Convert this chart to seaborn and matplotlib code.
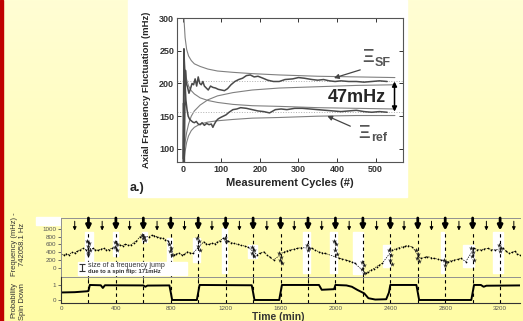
import numpy as np
import seaborn as sns
import matplotlib.pyplot as plt
from matplotlib.patches import Rectangle
from matplotlib.colors import LinearSegmentedColormap

# ---------- panel a.) : fluctuation vs measurement cycles ----------
cyc_sf = [1, 3, 5, 7, 9, 12, 16, 20, 24, 28, 32, 36, 40, 44, 48, 52, 56, 61, 66, 72,
          78, 85, 92, 100, 108, 116, 125, 135, 145, 155, 165, 175, 185, 195, 208, 220,
          235, 250, 265, 285, 300, 315, 335, 350, 365, 380, 395, 410, 430, 450, 470,
          490, 510, 530]
fluct_sf = [85, 253, 190, 220, 200, 195, 185, 192, 200, 198, 207, 196, 210, 200, 198,
            203, 196, 193, 190, 196, 194, 193, 191, 190, 189, 192, 198, 203, 206, 208,
            212, 213, 210, 211, 208, 205, 203, 203, 206, 207, 209, 208, 206, 205, 206,
            204, 203, 204, 203, 203, 202, 203, 204, 203]

cyc_ref = [1, 2, 4, 6, 8, 11, 14, 18, 22, 26, 30, 35, 40, 45, 50, 56, 62, 68, 74, 78,
           82, 87, 92, 98, 105, 112, 120, 130, 140, 150, 165, 180, 195, 210, 225, 240,
           255, 270, 290, 310, 330, 350, 370, 390, 410, 430, 450, 470, 490, 510, 530]
fluct_ref = [80, 170, 80, 200, 175, 160, 150, 145, 143, 141, 140, 142, 138, 137, 140,
             136, 139, 137, 138, 133, 138, 143, 146, 148, 150, 152, 156, 160, 161, 163,
             162, 160, 158, 157, 155, 160, 161, 160, 162, 162, 161, 160, 159, 158, 157,
             158, 159, 157, 156, 157, 156]

env_cyc = [3, 6, 10, 15, 22, 30, 45, 65, 90, 130, 180, 250, 350, 450, 550]
env_sf_hi = [300, 270, 252, 242, 235, 230, 226, 222, 219, 217, 215, 213, 211, 210, 209]
env_sf_lo = [95, 110, 125, 138, 150, 158, 167, 175, 181, 186, 190, 193, 195, 197, 198]
env_ref_hi = [250, 222, 206, 196, 189, 184, 178, 174, 171, 168, 166, 165, 163, 162, 161]
env_ref_lo = [80, 96, 110, 120, 128, 133, 138, 141, 143, 145, 147, 148, 150, 151, 151]
mean_levels = [203, 157]

# ---------- lower panel : frequency and spin state vs time ----------
freq_t = [0, 20, 40, 60, 80, 100, 120, 140, 160, 180, 230, 250, 270, 290, 310, 330, 350,
          370, 430, 450, 470, 490, 510, 530, 550, 575, 640, 660, 680, 700, 720, 740,
          760, 780, 820, 840, 860, 880, 900, 920, 940, 960, 1040, 1060, 1080, 1100, 1120,
          1140, 1160, 1180, 1220, 1240, 1260, 1290, 1310, 1340, 1360, 1430, 1450, 1480,
          1500, 1520, 1550, 1625, 1650, 1670, 1700, 1720, 1750, 1830, 1850, 1880, 1900,
          1925, 2025, 2050, 2075, 2100, 2120, 2140, 2220, 2240, 2260, 2280, 2300, 2320,
          2340, 2415, 2440, 2460, 2490, 2510, 2530, 2560, 2620, 2650, 2670, 2700, 2720,
          2750, 2770, 2820, 2840, 2865, 2890, 2915, 2950, 3010, 3035, 3060, 3085, 3110,
          3135, 3160, 3220, 3245, 3265, 3285, 3305, 3325, 3345]
freq_mhz = [350, 330, 360, 340, 400, 380, 430, 470, 500, 470, 500, 470, 450, 480, 500,
            460, 470, 500, 590, 570, 610, 580, 590, 650, 690, 800, 800, 840, 830, 800,
            780, 760, 720, 700, 330, 360, 380, 330, 350, 410, 390, 370, 670, 620, 600,
            640, 620, 670, 700, 760, 680, 650, 630, 600, 580, 560, 540, 330, 380, 410,
            330, 280, 200, 410, 440, 460, 480, 500, 520, 500, 460, 410, 390, 370, 250,
            230, 200, 180, 150, 120, -140, -100, -60, -20, 30, 70, 110, 460, 490, 520,
            540, 560, 570, 540, 240, 270, 290, 260, 240, 220, 200, 160, 180, 200, 220,
            240, 160, 500, 470, 460, 490, 500, 470, 460, 500, 430, 370, 400, 420, 360, 330]

star_t = [190, 205, 195, 210, 200, 198,
          390, 405, 395, 410,
          590, 605, 598, 610,
          790, 805, 795, 810,
          990, 1005, 995, 1010,
          1195, 1205,
          1390, 1405, 1395, 1410,
          1590, 1605, 1595, 1610,
          1790, 1805, 1800,
          1990, 2005, 1995, 2010,
          2190, 2205, 2195, 2210,
          2390, 2405, 2395, 2410,
          2590, 2605, 2595, 2610,
          2790, 2805, 2800,
          2990, 3005, 2995, 3010,
          3190, 3205, 3200]
star_f = [700, 640, 560, 450, 400, 360,
          660, 600, 540, 470,
          850, 800, 760, 720,
          620, 520, 420, 320,
          760, 700, 560, 470,
          770, 700,
          540, 450, 380, 300,
          380, 290, 200, 130,
          590, 520, 450,
          680, 600, 470, 360,
          150, 60, -40, -130,
          450, 330, 200, 90,
          460, 360, 260, 170,
          200, 140, 80,
          500, 400, 300, 210,
          590, 510, 430]

prob_t = [0, 100, 190, 200, 210, 290, 305, 320, 600, 615, 630, 790, 800, 810, 990, 1000,
          1010, 1390, 1400, 1410, 1590, 1600, 1610, 1880, 1900, 1990, 2000, 2080, 2120,
          2160, 2210, 2240, 2290, 2370, 2390, 2400, 2590, 2600, 2610, 2990, 3000, 3010,
          3060, 3080, 3100, 3345]
prob_down = [0.5, 0.52, 0.58, 0.6, 1.0, 0.98, 0.8, 0.98, 0.97, 0.88, 0.96, 0.97, 0.5,
             0.0, 0.0, 0.5, 1.0, 0.98, 0.5, 0.0, 0.0, 0.5, 1.0, 1.0, 0.68, 0.72, 1.0,
             0.97, 0.88, 0.67, 0.44, 0.12, 0.03, 0.05, 0.5, 1.0, 1.0, 0.5, 0.0, 0.0,
             0.5, 1.0, 1.0, 0.88, 0.95, 0.97]

big_arrow_t = [200, 400, 600, 800, 1000, 1200, 1400, 1600, 1800, 2000, 2200, 2400, 2600,
               2800, 3000, 3200]
small_arrow_t = [100, 300, 500, 700, 900, 1100, 1300, 1500, 1700, 1900, 2100, 2300,
                 2500, 2700, 2900, 3100, 3300]

# white highlight bands (time start, time end, freq low, freq high)
band_t0 = [175, 380, 591, 774, 963, 1175, 1365, 1766, 1963, 2131, 2350, 2766, 2927, 3146]
band_t1 = [234, 416, 628, 810, 1015, 1212, 1430, 1818, 2015, 2204, 2401, 2788, 3007, 3219]
band_lo = [149, 300, 665, -135, 149, -135, 252, -135, -135, -160, 20, -135, 20, -135]
band_hi = [923, 923, 923, 768, 768, 1026, 587, 923, 923, 923, 587, 923, 587, 923]
jump_size = 171

sns.set_style("ticks")
plt.rcParams['font.family'] = ['Liberation Sans', 'DejaVu Sans']

fig = plt.figure(figsize=(5.23, 3.21), dpi=100)

# slide background
bg = fig.add_axes([0, 0, 1, 1], zorder=-10)
grad = np.linspace(0, 1, 256).reshape(-1, 1)
bg.imshow(grad, aspect='auto', extent=[0, 1, 0, 1],
          cmap=LinearSegmentedColormap.from_list('bg', ['#fffed4', '#fffca6']))
bg.add_patch(Rectangle((0, 0), 2.5 / 523, 1, color='#c00000'))
bg.add_patch(Rectangle((128 / 523, 1 - 197 / 321), 279 / 523, 197 / 321, color='white'))
bg.add_patch(Rectangle((36 / 523, 1 - 225 / 321), 24 / 523, 8 / 321, color='white'))
bg.set_xlim(0, 1)
bg.set_ylim(0, 1)
bg.axis('off')

# ---- top panel ----
ax = fig.add_axes([177 / 523, 1 - 162 / 321, 226 / 523, 144 / 321])
ax.set_facecolor('white')
for env in [env_sf_hi, env_sf_lo, env_ref_hi, env_ref_lo]:
    sns.lineplot(x=env_cyc, y=env, ax=ax, color='#808080', lw=0.8, estimator=None)
for lvl in mean_levels:
    ax.axhline(lvl, color='#b0b0b0', lw=0.7, ls=':')
sns.lineplot(x=cyc_sf, y=fluct_sf, ax=ax, color='#4a4a4a', lw=1.1, estimator=None, sort=False)
sns.lineplot(x=cyc_ref, y=fluct_ref, ax=ax, color='#4a4a4a', lw=1.1, estimator=None, sort=False)
ax.set_xlim(-15, 571)
ax.set_ylim(80, 300)
ax.set_xticks([0, 100, 200, 300, 400, 500])
ax.set_yticks([100, 150, 200, 250, 300])
ax.tick_params(direction='in', top=True, right=True, length=3, width=0.7,
               labelsize=6.5, pad=2, colors='#333333')
for lbl in ax.get_xticklabels() + ax.get_yticklabels():
    lbl.set_fontweight('bold')
for sp in ax.spines.values():
    sp.set_color('#555555')
    sp.set_linewidth(0.8)
ax.set_xlabel('Measurement Cycles (#)', fontsize=8, fontweight='bold', labelpad=3)
ax.set_ylabel('Axial Frequency Fluctuation (mHz)', fontsize=6.8, fontweight='bold', labelpad=6)

ax.annotate('', xy=(549, mean_levels[0]), xytext=(549, mean_levels[1]),
            arrowprops=dict(arrowstyle='<|-|>', color='black', lw=1.1,
                            mutation_scale=7, shrinkA=0, shrinkB=0))
ax.text(450, 178, '47mHz', fontsize=13, fontweight='bold', ha='center', va='center')
ax.text(465, 240, 'Ξ', fontsize=13, fontweight='bold', color='#555555', ha='left', va='center')
ax.text(497, 232, 'SF', fontsize=9, fontweight='bold', color='#555555', ha='left', va='center')
ax.text(456, 124, 'Ξ', fontsize=13, fontweight='bold', color='#555555', ha='left', va='center')
ax.text(488, 116, 'ref', fontsize=9, fontweight='bold', color='#555555', ha='left', va='center')
ax.annotate('', xy=(385, 207), xytext=(467, 222),
            arrowprops=dict(arrowstyle='-|>', color='#444444', lw=0.9, mutation_scale=7))
ax.annotate('', xy=(368, 152), xytext=(441, 133),
            arrowprops=dict(arrowstyle='-|>', color='#444444', lw=0.9, mutation_scale=7))
fig.text(130 / 523, 1 - 188 / 321, 'a.)', fontsize=9, fontweight='bold', va='center')

# ---- bottom panels ----
axf = fig.add_axes([61 / 523, 1 - 277 / 321, 459 / 523, 59 / 321])
axp = fig.add_axes([61 / 523, 1 - 303 / 321, 459 / 523, 26 / 321], sharex=axf)
for a in (axf, axp):
    a.set_facecolor('none')

axf.bar(x=[(a + b) / 2 for a, b in zip(band_t0, band_t1)],
        height=[h - l for l, h in zip(band_lo, band_hi)], bottom=band_lo,
        width=[b - a for a, b in zip(band_t0, band_t1)], color='white', zorder=0)

for t in big_arrow_t:
    axf.annotate('', xy=(t, 960), xytext=(t, 1284),
                 arrowprops=dict(arrowstyle='-|>', color='black', lw=2.0,
                                 mutation_scale=7, shrinkA=0, shrinkB=0))
    axf.axvline(t, ymax=0.74, color='black', lw=0.8, ls=(0, (3, 3)))
    axp.axvline(t, color='black', lw=0.8, ls=(0, (3, 3)))
for t in small_arrow_t:
    axf.annotate('', xy=(t, 960), xytext=(t, 1200),
                 arrowprops=dict(arrowstyle='-|>', color='black', lw=0.7,
                                 mutation_scale=5, shrinkA=0, shrinkB=0))

sns.lineplot(x=freq_t, y=freq_mhz, ax=axf, color='black', lw=0.5, ls=(0, (2, 1.5)),
             marker='.', markersize=2.5, markeredgewidth=0, estimator=None, sort=False)
sns.scatterplot(x=star_t, y=star_f, ax=axf, marker='*', s=14, color='#222222',
                linewidth=0, zorder=3)

axf.add_patch(Rectangle((124, -187), 796, 335, color='white', zorder=2))
axf.errorbar(150, 5, yerr=jump_size / 2, color='#333333', lw=0.8, capsize=2,
             capthick=0.8, zorder=3)
axf.text(200, 65, 'size of a frequency jump', fontsize=5, color='#333333',
         va='center', zorder=4)
axf.text(200, -105, 'due to a spin flip: 171mHz', fontsize=4.2, fontweight='bold',
         color='#333333', va='center', zorder=4)

axf.set_xlim(0, 3345)
axf.set_ylim(-239, 1284)
axf.set_yticks([0, 200, 400, 600, 800, 1000])
axf.tick_params(axis='y', labelsize=4.5, length=2, width=0.6, pad=1.5, colors='#555555')
axf.tick_params(axis='x', bottom=False, labelbottom=False)
axf.spines['right'].set_visible(False)
for sp in ('left', 'top', 'bottom'):
    axf.spines[sp].set_color('#909090')
    axf.spines[sp].set_linewidth(0.7)

sns.lineplot(x=prob_t, y=prob_down, ax=axp, color='black', lw=1.4, estimator=None)
axp.set_ylim(-0.2, 1.53)
axp.set_yticks([0, 1])
axp.set_xticks(range(0, 3201, 400))
axp.set_xticks(range(200, 3345, 400), minor=True)
axp.tick_params(axis='y', labelsize=4.5, length=2, width=0.6, pad=1.5, colors='#555555')
axp.tick_params(axis='x', which='both', direction='in', length=2.5, width=0.6,
                labelsize=4.5, pad=2, colors='#555555')
axp.spines['right'].set_visible(False)
axp.spines['top'].set_visible(False)
for sp in ('left', 'bottom'):
    axp.spines[sp].set_color('#333333')
    axp.spines[sp].set_linewidth(0.8)
axp.set_xlabel('Time (min)', fontsize=7.5, fontweight='bold', color='#333333')
axp.xaxis.set_label_coords(0.473, -0.36)

fig.text(15 / 523, 1 - 244 / 321, 'Frequency (mHz) -', rotation=90, fontsize=5.5,
         color='#333333', ha='center', va='center')
fig.text(22.5 / 523, 1 - 244 / 321, '742058.1 Hz', rotation=90, fontsize=5.5,
         color='#333333', ha='center', va='center')
fig.text(14 / 523, 1 - 300 / 321, 'Probability', rotation=90, fontsize=5.5,
         color='#333333', ha='center', va='center')
fig.text(22.5 / 523, 1 - 302 / 321, 'Spin Down', rotation=90, fontsize=5.5,
         color='#333333', ha='center', va='center')

fig.savefig('out.png', dpi=100)
